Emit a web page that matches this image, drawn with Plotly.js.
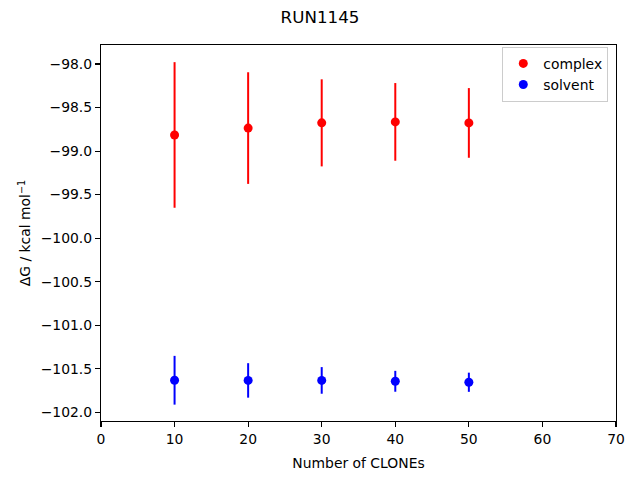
<!DOCTYPE html>
<html><head><meta charset="utf-8">
<script src="https://cdn.plot.ly/plotly-3.0.1.min.js"></script>
<style>html,body{margin:0;padding:0;background:#fff}#chart{width:640px;height:480px}</style>
</head><body><div id="chart"></div>
<script>
const clones = [10, 20, 30, 40, 50];
const complexDG = [-98.815, -98.736, -98.676, -98.665, -98.677];
const complexErr = [0.836, 0.641, 0.500, 0.446, 0.400];
const solventDG = [-101.632, -101.634, -101.634, -101.644, -101.655];
const solventErr = [0.280, 0.198, 0.153, 0.120, 0.110];

const font = {family: 'DejaVu Sans', size: 13.9, color: '#000'};
const traces = [
  {x: clones, y: complexDG, name: 'complex', type: 'scatter', mode: 'markers',
   marker: {color: '#ff0000', size: 9},
   error_y: {type: 'data', array: complexErr, visible: true, color: '#ff0000', thickness: 2, width: 0}},
  {x: clones, y: solventDG, name: 'solvent', type: 'scatter', mode: 'markers',
   marker: {color: '#0000ff', size: 9},
   error_y: {type: 'data', array: solventErr, visible: true, color: '#0000ff', thickness: 2, width: 0}}
];
const axisCommon = {showline: true, mirror: true, linecolor: '#000', linewidth: 1.1,
  ticks: 'outside', ticklen: 5, tickwidth: 1.1, tickcolor: '#000', showgrid: false, zeroline: false,
  tickfont: font};
const layout = {
  width: 640, height: 480,
  margin: {l: 101, r: 24, t: 45, b: 59},
  paper_bgcolor: '#fff', plot_bgcolor: '#fff',
  font: font,
  title: {text: 'RUN1145', font: {family: 'DejaVu Sans', size: 16.7, color: '#000'}, x: 0.5, xanchor: 'center', y: 0.965, yanchor: 'middle'},
  xaxis: Object.assign({}, axisCommon, {range: [0, 70], tickvals: [0,10,20,30,40,50,60,70],
    title: {text: 'Number of CLONEs', font: font, standoff: 12}}),
  yaxis: Object.assign({}, axisCommon, {range: [-102.10, -97.782],
    tickvals: [-98, -98.5, -99, -99.5, -100, -100.5, -101, -101.5, -102],
    ticktext: ['\u221298.0','\u221298.5','\u221299.0','\u221299.5','\u2212100.0','\u2212100.5','\u2212101.0','\u2212101.5','\u2212102.0'],
    title: {text: '\u0394G / kcal mol<sup>\u22121</sup>', font: font, standoff: 6}}),
  showlegend: true,
  legend: {x: 0.985, y: 0.995, xanchor: 'right', yanchor: 'top', bgcolor: 'rgba(255,255,255,0.8)',
    bordercolor: '#cccccc', borderwidth: 1, font: font, itemwidth: 30, tracegroupgap: 0}
};
Plotly.newPlot('chart', traces, layout, {displayModeBar: false, staticPlot: true});
</script>
</body></html>
